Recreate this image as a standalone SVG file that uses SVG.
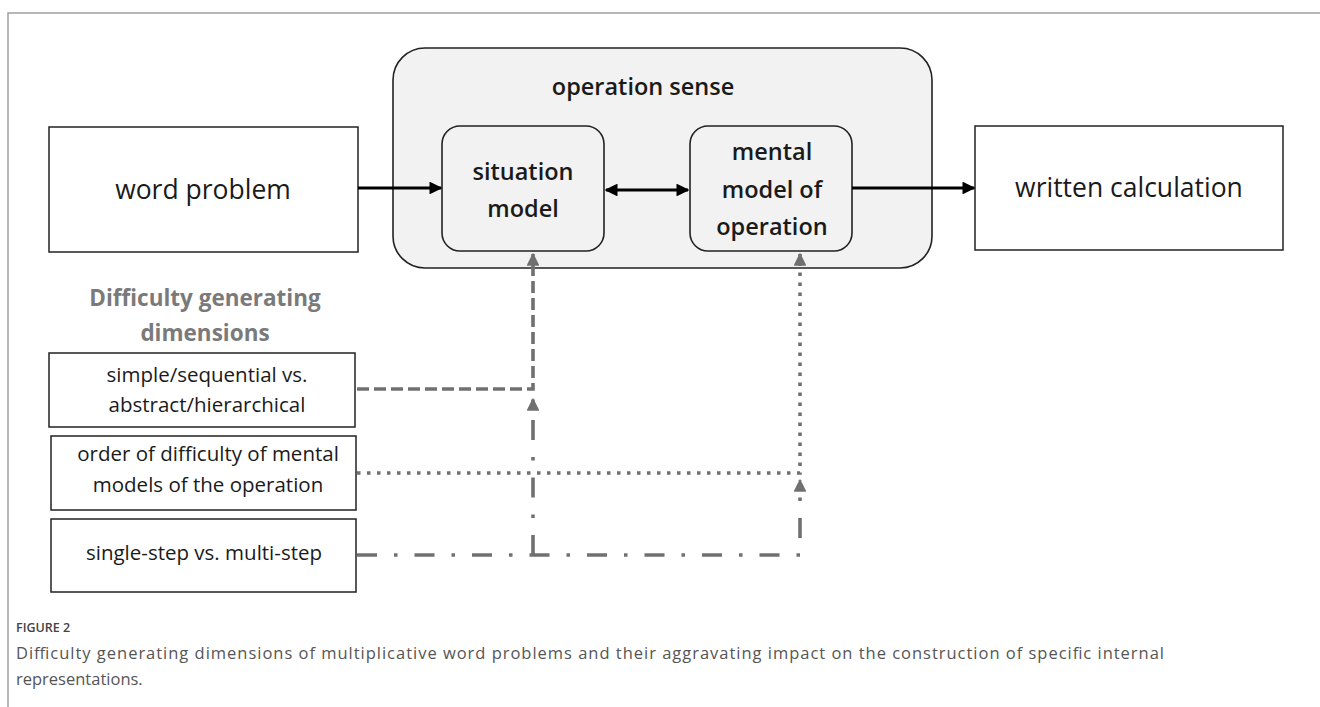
<svg xmlns="http://www.w3.org/2000/svg" width="1320" height="707" viewBox="0 0 1320 707">
  <defs>
    <style>
      .box { fill: #ffffff; stroke: #222222; stroke-width: 1.5; }
      .rbox { fill: #f2f2f2; stroke: #222222; stroke-width: 1.6; }
      .t { font-family: "Open Sans", "Noto Sans", sans-serif; fill: #1a1a1a; text-anchor: middle; }
      .big { font-size: 26.5px; }
      .bold { font-size: 23.5px; font-weight: 600; }
      .small { font-size: 20.5px; }
      .head { font-family: "Open Sans", "Noto Sans", sans-serif; font-size: 22.5px; font-weight: 700; fill: #7a7a7a; text-anchor: middle; }
      .cap { font-family: "Open Sans", "Noto Sans", sans-serif; fill: #555555; }
      .solid { stroke: #000000; stroke-width: 3.2; fill: none; }
      .g { stroke: #707070; stroke-width: 3.6; fill: none; }
      .dash { stroke-dasharray: 12 5; }
      .dot { stroke-dasharray: 3.5 6.5; }
      .dashdot { stroke-dasharray: 20 17 3.5 17; }
    </style>
    <marker id="ah" viewBox="0 0 10 10" refX="9" refY="5" markerWidth="4" markerHeight="4" markerUnits="strokeWidth" orient="auto-start-reverse">
      <path d="M0,0 L10,5 L0,10 Z" fill="#000000"/>
    </marker>
    <marker id="gh" viewBox="0 0 10 10" refX="9" refY="5" markerWidth="3.6" markerHeight="3.6" markerUnits="strokeWidth" orient="auto">
      <path d="M0,0 L10,5 L0,10 Z" fill="#707070"/>
    </marker>
  </defs>

  <rect width="1320" height="707" fill="#ffffff"/>
  <path d="M8,707 V13 H1320" fill="none" stroke="#a0a0a0" stroke-width="1.5"/>

  <g id="operation-sense">
    <rect class="rbox" x="393" y="48" width="539" height="220" rx="32" ry="32"/>
    <text class="t" x="643" y="95" style="font-size:23.5px;font-weight:600">operation sense</text>
  </g>

  <g id="word-problem">
    <rect class="box" x="49" y="127" width="309" height="125"/>
    <text class="t big" x="203" y="199">word problem</text>
  </g>

  <g id="situation-model">
    <rect class="rbox" x="442" y="126" width="162" height="125" rx="18" ry="18"/>
    <text class="t bold" x="523" y="180">situation</text>
    <text class="t bold" x="523" y="217">model</text>
  </g>

  <g id="mental-model">
    <rect class="rbox" x="690" y="126" width="162" height="125" rx="18" ry="18"/>
    <text class="t bold" x="772" y="160">mental</text>
    <text class="t bold" x="772" y="198">model of</text>
    <text class="t bold" x="772" y="235">operation</text>
  </g>

  <g id="written-calculation">
    <rect class="box" x="975" y="126" width="308" height="124"/>
    <text class="t big" x="1129" y="197">written calculation</text>
  </g>

  <g id="heading">
    <text class="head" x="205" y="306">Difficulty generating</text>
    <text class="head" x="205" y="341">dimensions</text>
  </g>

  <g id="dim-structure">
    <rect class="box" x="49" y="353" width="306" height="74"/>
    <text class="t small" x="207" y="382">simple/sequential vs.</text>
    <text class="t small" x="207" y="412">abstract/hierarchical</text>
  </g>

  <g id="dim-order">
    <rect class="box" x="51" y="436" width="305" height="74"/>
    <text class="t small" x="208" y="461">order of difficulty of mental</text>
    <text class="t small" x="208" y="492">models of the operation</text>
  </g>

  <g id="dim-steps">
    <rect class="box" x="51" y="519" width="305" height="73"/>
    <text class="t small" x="204" y="560">single-step vs. multi-step</text>
  </g>

  <g id="connectors">
    <line class="solid" x1="358" y1="188" x2="441" y2="188" marker-end="url(#ah)"/>
    <line class="solid" x1="606" y1="190" x2="688" y2="190" marker-start="url(#ah)" marker-end="url(#ah)"/>
    <line class="solid" x1="852" y1="188" x2="974" y2="188" marker-end="url(#ah)"/>

    <path class="g dash" d="M357,389 H533 V254" marker-end="url(#gh)"/>
    <path class="g dot" d="M357,473 H800 V254" marker-end="url(#gh)"/>
    <path class="g dashdot" d="M357,555 H800 V480" marker-end="url(#gh)"/>
    <path class="g dashdot" d="M533,555 V399" marker-end="url(#gh)"/>
  </g>

  <g id="caption">
    <text class="cap" x="16" y="632" style="font-size:12.5px;font-weight:600;fill:#444">FIGURE 2</text>
    <text class="cap" x="16" y="659" style="font-size:16.5px" textLength="1148" lengthAdjust="spacing">Difficulty generating dimensions of multiplicative word problems and their aggravating impact on the construction of specific internal</text>
    <text class="cap" x="16" y="685" style="font-size:16.5px">representations.</text>
  </g>
</svg>
